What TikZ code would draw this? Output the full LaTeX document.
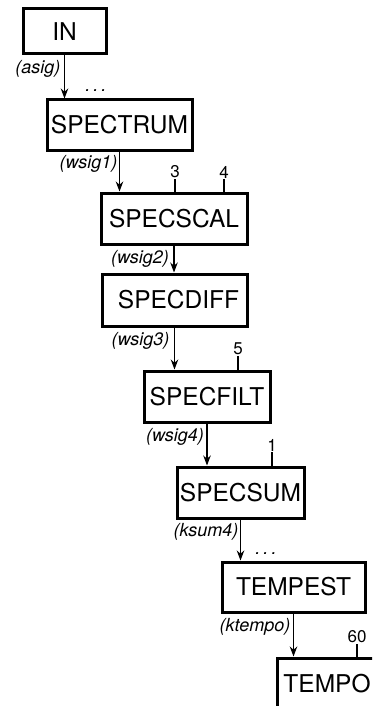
\documentclass[tikz,border=0pt]{standalone}
\usepackage{fontspec}
\setmainfont{TeX Gyre Heros}
\usepackage{tikz}
\usetikzlibrary{arrows.meta, positioning}

\tikzset{
	unit/.style={shape=rectangle, draw, line width=3pt, inner sep=0pt, font=\fontsize{24.5}{24.5}\selectfont},
	sig/.style={inner sep=0pt, font=\fontsize{18}{18}\selectfont\itshape},
	parm/.style={inner sep=1pt, font=\fontsize{17}{17}\selectfont},
	flow/.style={line width=1.3pt, -{Stealth[length=10pt, width=7.5pt]}},
	tick/.style={line width=1.3pt}
}

\begin{document}
\begin{tikzpicture}[x=1pt, y=-1pt]
		\useasboundingbox (0,0) rectangle (372,706);
		\clip (0,0) rectangle (372,706);
		% Units:
		\node[unit, minimum width=83pt, minimum height=45pt](IN) at (64.5, 31.5){IN};
		\node[unit, minimum width=145pt, minimum height=50pt](SPECTRUM) at (119.5, 125){SPECTRUM};
		\node[unit, minimum width=146pt, minimum height=51pt](SPECSCAL) at (174, 218.5){SPECSCAL};
		\node[unit, minimum width=145pt, minimum height=52pt](SPECDIFF) at (174.5, 300){\hspace{8pt}SPECDIFF};
		\node[unit, minimum width=126pt, minimum height=51pt](SPECFILT) at (207, 396.5){SPECFILT};
		\node[unit, minimum width=127pt, minimum height=51pt](SPECSUM) at (240.5, 492.5){SPECSUM};
		\node[unit, minimum width=143pt, minimum height=50pt](TEMPEST) at (293.5, 587){TEMPEST};
		\node[unit, minimum width=100pt, minimum height=52pt](TEMPO) at (327, 684){TEMPO};
		% Signals:
		\draw[flow] (IN.south) -- (IN.south |- SPECTRUM.north);
		\draw[flow] (SPECTRUM.south) -- (SPECTRUM.south |- SPECSCAL.north);
		\draw[flow] (SPECSCAL.south) -- (SPECSCAL.south |- SPECDIFF.north);
		\draw[flow] (SPECDIFF.south) -- (SPECDIFF.south |- SPECFILT.north);
		\draw[flow] (SPECFILT.south) -- (SPECFILT.south |- SPECSUM.north);
		\draw[flow] (SPECSUM.south) -- (SPECSUM.south |- TEMPEST.north);
		\draw[flow] (TEMPEST.south) -- (TEMPEST.south |- TEMPO.north);
		\node[sig, anchor=north east](L1) at ([xshift=-4pt, yshift=-5pt]IN.south){(asig)};
		\node[sig, anchor=north east](L2) at ([xshift=-2pt, yshift=-4pt]SPECTRUM.south){(wsig1)};
		\node[sig, anchor=north east](L3) at ([xshift=-5pt, yshift=-5pt]SPECSCAL.south){(wsig2)};
		\node[sig, anchor=north east](L4) at ([xshift=-5pt, yshift=-5pt]SPECDIFF.south){(wsig3)};
		\node[sig, anchor=north east](L5) at ([xshift=-3pt, yshift=-5pt]SPECFILT.south){(wsig4)};
		\node[sig, anchor=north east](L6) at ([xshift=-2pt, yshift=-4pt]SPECSUM.south){(ksum4)};
		\node[sig, anchor=north east](L7) at ([xshift=-3pt, yshift=-5pt]TEMPEST.south){(ktempo)};
		\node[sig, anchor=south](D1) at (96, 92){.\,.\,.};
		\node[sig, anchor=south](D2) at (266, 555){.\,.\,.};
		% Parameters:
		\node[parm](P1) at (175, 172){3};
		\node[parm](P2) at (224, 172){4};
		\node[parm](P3) at (238, 349){5};
		\node[parm](P4) at (272, 445){1};
		\node[parm](P5) at (357, 637){60};
		\draw[tick] (P1.south) -- (P1.south |- SPECSCAL.north);
		\draw[tick] (P2.south) -- (P2.south |- SPECSCAL.north);
		\draw[tick] (P3.south) -- (P3.south |- SPECFILT.north);
		\draw[tick] (P4.south) -- (P4.south |- SPECSUM.north);
		\draw[tick] (P5.south) -- (P5.south |- TEMPO.north);
	\end{tikzpicture}
\end{document}
